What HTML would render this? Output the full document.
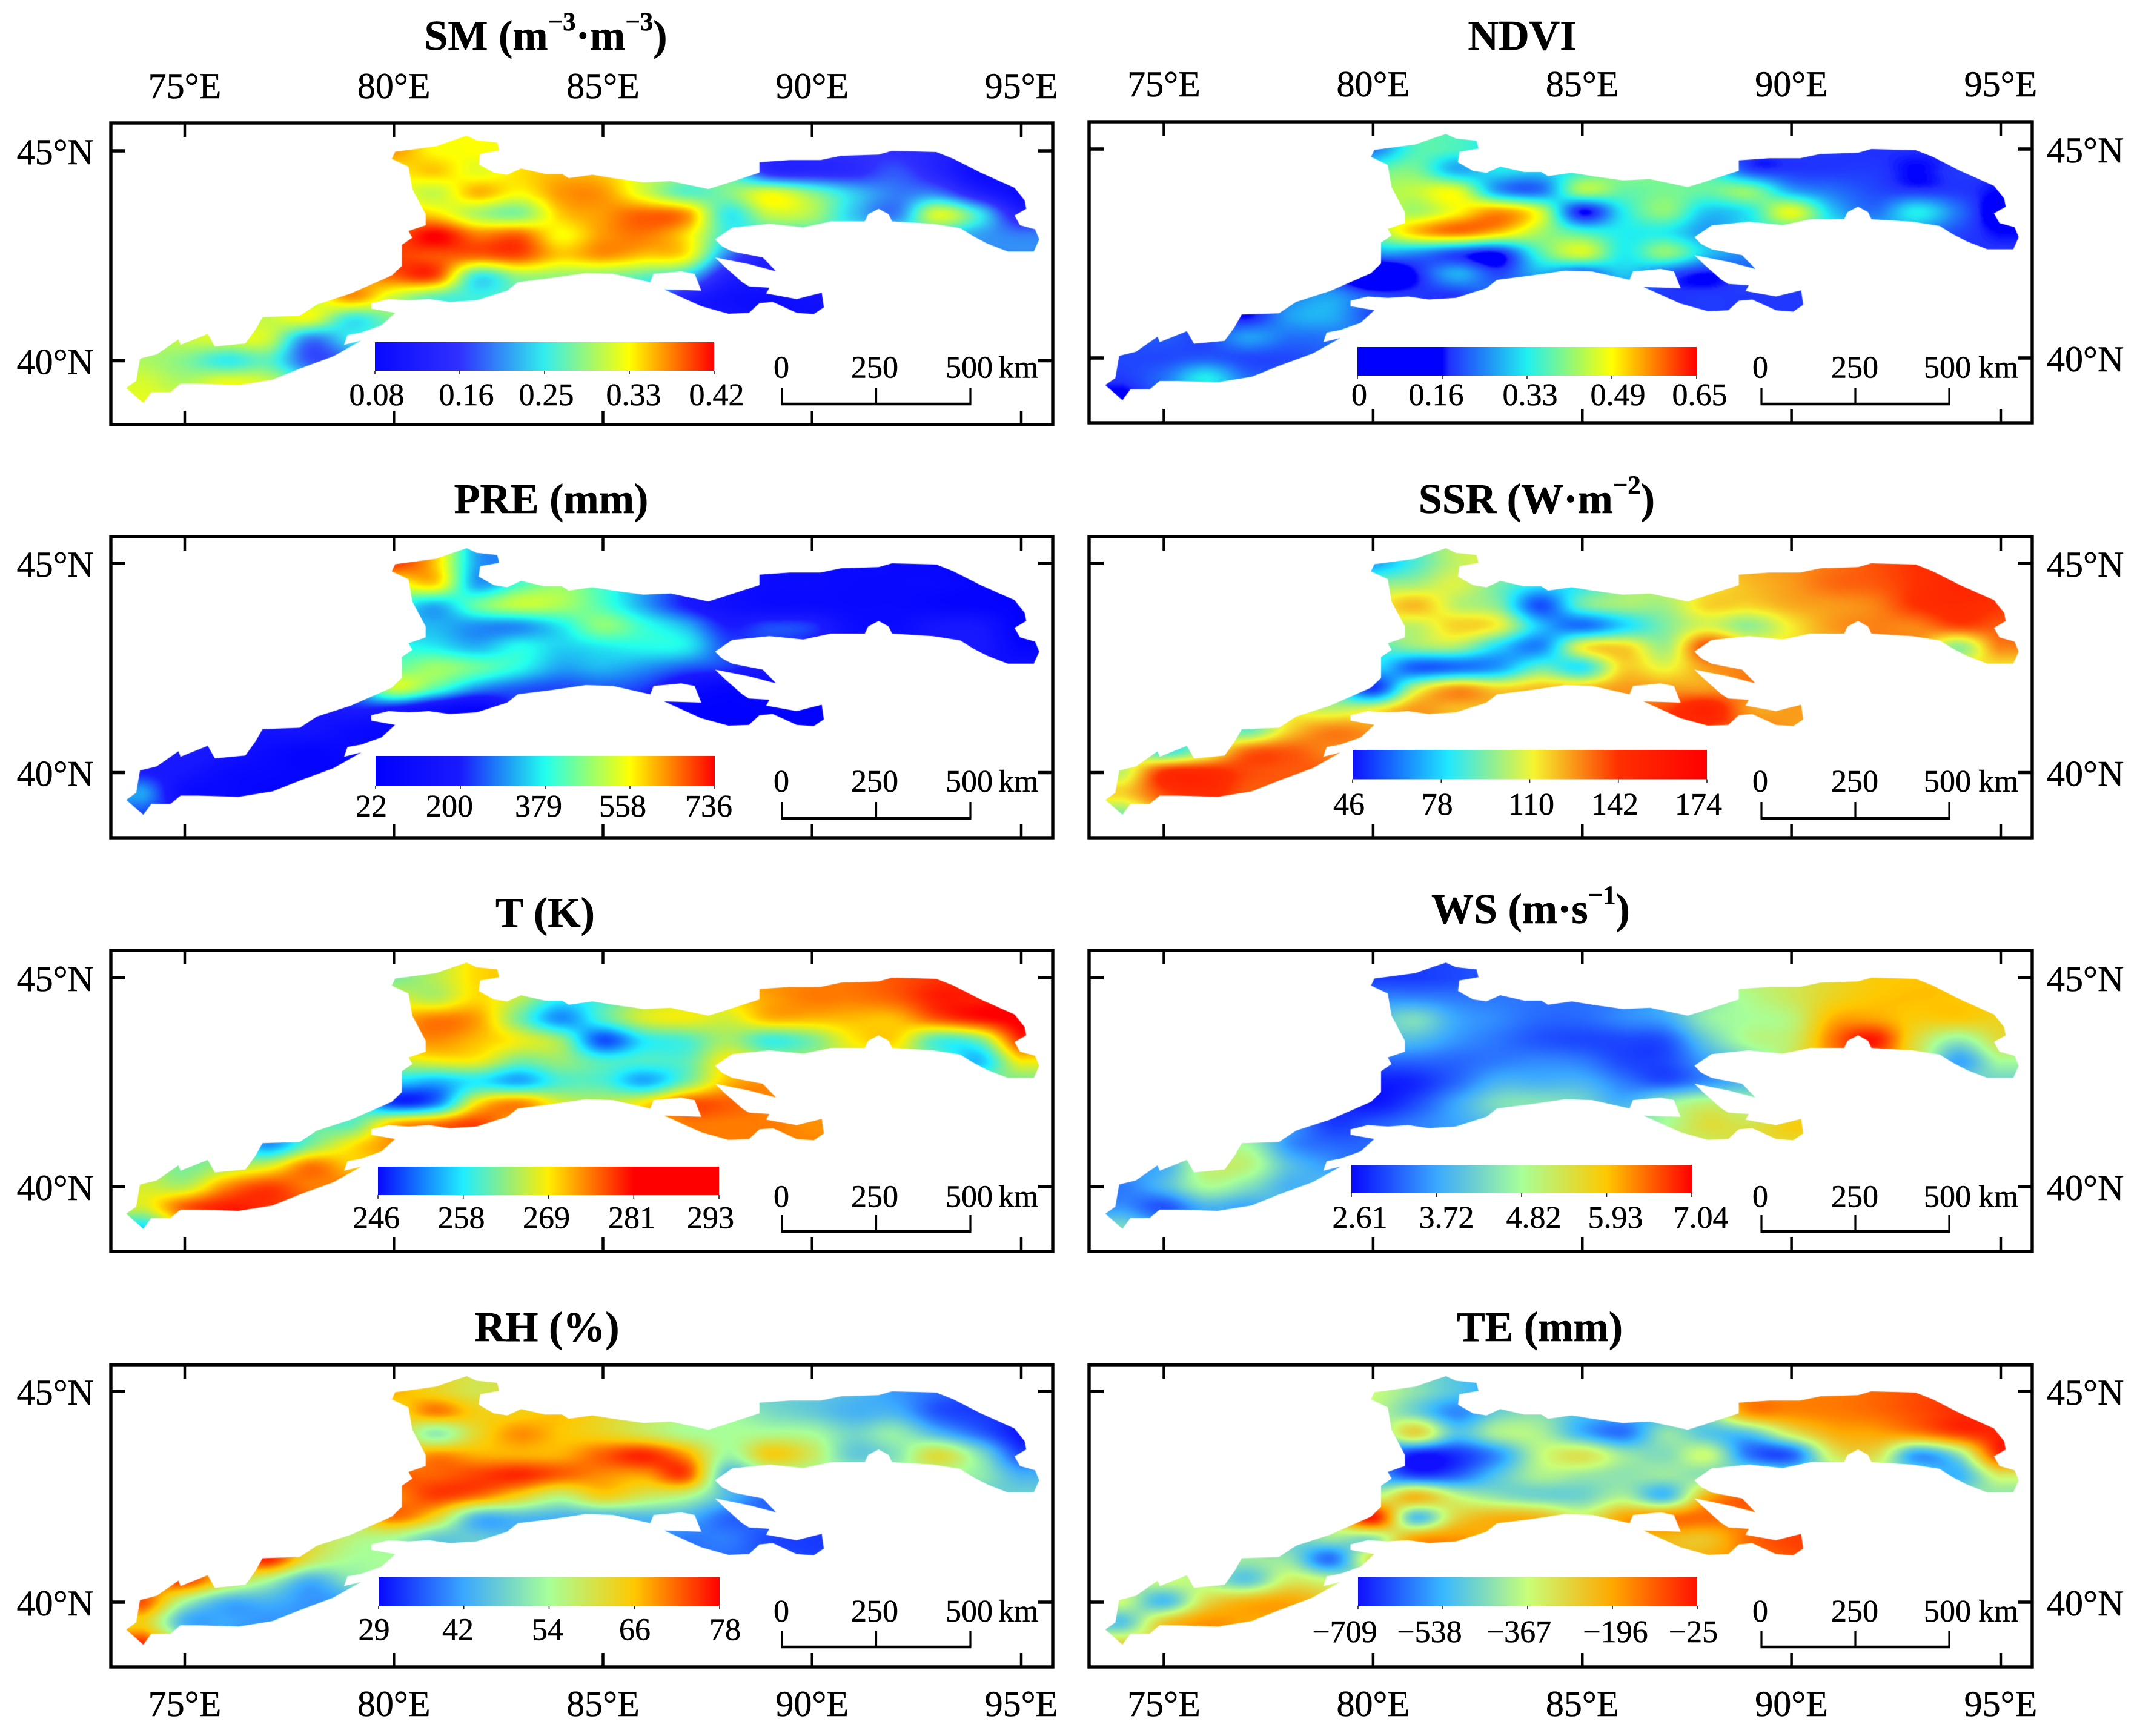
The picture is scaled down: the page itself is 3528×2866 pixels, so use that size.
<!DOCTYPE html>
<html lang="en">
<head>
<meta charset="utf-8">
<title>Spatial distribution of environmental variables</title>
<style>
html,body{margin:0;padding:0;background:#fff;}
#figure{position:relative;width:3528px;height:2866px;background:#fff;overflow:hidden;}
#figure canvas{position:absolute;display:block;}
#overlay{position:absolute;left:0;top:0;}
#overlay text{font-family:"Liberation Serif",serif;fill:#000;stroke:#000;stroke-width:0.5px;}
.title{font-size:70px;font-weight:bold;text-anchor:middle;}
.sup{font-size:43px;}
</style>
</head>
<body>
<div id="figure">
<svg id="overlay" width="3528" height="2866" viewBox="0 0 3528 2866" xmlns="http://www.w3.org/2000/svg">
  <defs id="gradients"></defs>
  <text class="title" x="901" y="82">SM (m<tspan class="sup" dy="-32">−3</tspan><tspan dy="32">·m</tspan><tspan class="sup" dy="-32">−3</tspan><tspan dy="32">)</tspan></text>
  <text class="title" x="2513" y="82">NDVI</text>
  <text class="title" x="910" y="847">PRE (mm)</text>
  <text class="title" x="2537" y="847">SSR (W·m<tspan class="sup" dy="-32">−2</tspan><tspan dy="32">)</tspan></text>
  <text class="title" x="900" y="1530">T (K)</text>
  <text class="title" x="2527" y="1524">WS (m·s<tspan class="sup" dy="-32">−1</tspan><tspan dy="32">)</tspan></text>
  <text class="title" x="903" y="2214">RH (%)</text>
  <text class="title" x="2542" y="2214">TE (mm)</text>
</svg>
</div>
<script>
const _ = null;
// grid axes of every field
const gridLons = [74,75,76,77,78,79,80,81,82,83,84,85,86,87,88,89,90,91,92,93,94,95];
const gridLats = [45,44.5,44,43.5,43,42.5,42,41.5,41,40.5,40,39.5,39];
// axis ticks
const lonTicks = [75,80,85,90,95];
const latTicks = [45,40];
const lonTickLabels = ['75°E','80°E','85°E','90°E','95°E'];
const latTickLabels = ['45°N','40°N'];
// basin boundary (degrees)
const boundaryLon = [81.74,81.98,82.47,82.52,82.06,82.03,82.39,82.71,83.04,83.61,84.02,84.18,84.75,85.24,85.97,86.62,87.52,87.84,88.74,88.74,89.47,90.2,90.69,91.59,91.91,92.97,93.38,94.03,94.84,95.08,95.12,94.84,94.97,95.33,95.43,95.3,94.68,94.19,93.86,93.54,92.89,91.91,91.83,91.59,91.34,91.26,90.45,89.79,88.98,88.09,87.68,87.84,88.09,88.82,89.14,88.49,87.68,87.92,88.33,88.49,88.98,88.9,89.63,90.23,90.28,90.04,89.63,89.06,88.74,88.49,88.0,87.35,86.46,87.35,87.19,86.87,86.21,86.13,85.24,84.59,83.77,82.96,82.71,81.98,81.33,80.84,80.35,79.87,79.46,79.46,80.03,79.7,79.22,78.89,78.81,79.22,78.56,77.75,77.1,76.29,75.31,74.9,74.66,74.2,74.01,73.6,73.84,73.93,74.33,74.85,74.9,75.55,75.72,76.45,76.69,76.86,77.75,78.16,78.97,79.95,80.19,80.19,80.44,80.35,80.76,80.76,80.44,80.35,79.95,80.03,81.01,81.41];
const boundaryLat = [45.36,45.25,45.2,45.01,44.93,44.68,44.48,44.43,44.58,44.45,44.45,44.35,44.43,44.35,44.25,44.28,44.09,44.19,44.48,44.73,44.78,44.78,44.88,44.91,45.0,44.97,44.81,44.48,44.12,43.82,43.62,43.46,43.23,43.13,42.89,42.6,42.6,42.79,42.96,43.16,43.26,43.32,43.49,43.62,43.49,43.32,43.32,43.18,43.26,43.17,42.89,42.73,42.6,42.46,42.13,42.3,42.46,42.23,41.87,41.77,41.74,41.6,41.47,41.62,41.27,41.11,41.14,41.4,41.37,41.14,41.12,41.3,41.7,41.67,42.07,42.13,42.07,41.87,42.07,42.09,41.97,41.87,41.67,41.44,41.4,41.47,41.44,41.47,41.37,41.24,41.14,40.84,40.67,40.61,40.38,40.48,40.11,39.81,39.55,39.42,39.45,39.45,39.25,39.25,38.99,39.35,39.52,40.05,40.15,40.51,40.38,40.64,40.34,40.41,40.74,41.04,41.07,41.34,41.6,42.03,42.26,42.76,42.93,43.09,43.23,43.49,44.09,44.62,44.81,44.98,45.11,45.25];
// colour-bar tick labels
const smBarLabels = ['0.08','0.16','0.25','0.33','0.42'];
const ndviBarLabels = ['0','0.16','0.33','0.49','0.65'];
const preBarLabels = ['22','200','379','558','736'];
const ssrBarLabels = ['46','78','110','142','174'];
const tBarLabels = ['246','258','269','281','293'];
const wsBarLabels = ['2.61','3.72','4.82','5.93','7.04'];
const rhBarLabels = ['29','42','54','66','78'];
const teBarLabels = ['−709','−538','−367','−196','−25'];
// scale-bar labels
const scaleLabels = ['0','250','500'];
// fields: value per grid node, as percent of each colour bar's range
const smField = [
[_,_,_,_,_,_,85,75,75,_,_,_,_,_,_,_,_,_,_,_,_,_],
[_,_,_,_,_,_,_,80,72,_,_,_,_,_,_,22,20,22,30,18,3,_],
[_,_,_,_,_,_,_,68,82,75,85,85,70,55,60,72,60,45,35,35,15,2],
[_,_,_,_,_,_,_,78,65,60,80,85,90,85,50,68,65,45,35,70,50,15],
[_,_,_,_,_,_,_,100,88,90,75,85,88,78,50,_,_,_,_,_,40,35],
[_,_,_,_,_,_,_,92,90,92,80,85,80,75,35,15,_,_,_,_,_,_],
[_,_,_,_,_,_,90,92,50,62,62,60,55,45,15,_,_,_,_,_,_,_],
[_,_,_,_,_,85,68,55,52,_,_,_,_,15,5,3,5,_,_,_,_,_],
[_,_,_,68,72,50,60,_,_,_,_,_,_,_,_,_,_,_,_,_,_,_],
[_,68,70,68,35,_,_,_,_,_,_,_,_,_,_,_,_,_,_,_,_,_],
[65,60,50,55,30,_,_,_,_,_,_,_,_,_,_,_,_,_,_,_,_,_],
[70,65,72,68,_,_,_,_,_,_,_,_,_,_,_,_,_,_,_,_,_,_],
[72,_,_,_,_,_,_,_,_,_,_,_,_,_,_,_,_,_,_,_,_,_]];
const ndviField = [
[_,_,_,_,_,_,35,55,55,_,_,_,_,_,_,_,_,_,_,_,_,_],
[_,_,_,_,_,_,_,60,42,_,_,_,_,_,_,30,28,28,28,25,28,_],
[_,_,_,_,_,_,_,68,72,40,35,65,58,60,58,62,42,35,30,28,28,25],
[_,_,_,_,_,_,_,65,75,85,70,25,50,62,45,50,72,45,35,50,35,20],
[_,_,_,_,_,_,_,80,88,80,65,55,50,50,40,_,_,_,_,_,30,25],
[_,_,_,_,_,_,_,38,30,25,55,70,50,62,45,38,_,_,_,_,_,_],
[_,_,_,_,_,_,8,25,42,30,42,32,45,32,25,_,_,_,_,_,_,_],
[_,_,_,_,_,40,30,28,28,_,_,_,_,28,28,28,28,_,_,_,_,_],
[_,_,_,25,40,42,30,_,_,_,_,_,_,_,_,_,_,_,_,_,_,_],
[_,32,30,40,35,_,_,_,_,_,_,_,_,_,_,_,_,_,_,_,_,_],
[30,30,32,30,30,_,_,_,_,_,_,_,_,_,_,_,_,_,_,_,_,_],
[28,35,50,35,_,_,_,_,_,_,_,_,_,_,_,_,_,_,_,_,_,_],
[22,_,_,_,_,_,_,_,_,_,_,_,_,_,_,_,_,_,_,_,_,_]];
const preField = [
[_,_,_,_,_,_,95,80,40,_,_,_,_,_,_,_,_,_,_,_,_,_],
[_,_,_,_,_,_,_,78,40,_,_,_,_,_,_,10,10,8,8,8,5,_],
[_,_,_,_,_,_,_,42,58,68,65,55,40,25,15,10,10,8,8,6,5,2],
[_,_,_,_,_,_,_,42,38,38,48,62,52,42,25,30,28,12,10,20,20,2],
[_,_,_,_,_,_,_,48,42,50,45,48,50,48,30,_,_,_,_,_,22,6],
[_,_,_,_,_,_,_,64,58,50,40,42,38,32,28,20,_,_,_,_,_,_],
[_,_,_,_,_,_,68,55,38,32,30,32,28,14,5,_,_,_,_,_,_,_],
[_,_,_,_,_,25,22,12,6,_,_,_,_,3,1,2,2,_,_,_,_,_],
[_,_,_,18,18,10,8,_,_,_,_,_,_,_,_,_,_,_,_,_,_,_],
[_,25,18,10,5,_,_,_,_,_,_,_,_,_,_,_,_,_,_,_,_,_],
[25,20,10,7,5,_,_,_,_,_,_,_,_,_,_,_,_,_,_,_,_,_],
[40,12,8,5,_,_,_,_,_,_,_,_,_,_,_,_,_,_,_,_,_,_],
[30,_,_,_,_,_,_,_,_,_,_,_,_,_,_,_,_,_,_,_,_,_]];
const ssrField = [
[_,_,_,_,_,_,18,32,45,_,_,_,_,_,_,_,_,_,_,_,_,_],
[_,_,_,_,_,_,_,42,48,_,_,_,_,_,_,58,62,68,70,75,80,_],
[_,_,_,_,_,_,_,58,45,38,8,35,42,42,55,55,60,62,65,75,78,75],
[_,_,_,_,_,_,_,45,55,50,22,12,25,38,48,40,52,62,65,65,72,70],
[_,_,_,_,_,_,_,40,42,25,15,50,55,42,72,_,_,_,_,_,40,65],
[_,_,_,_,_,_,_,10,12,18,35,28,55,50,62,65,_,_,_,_,_,_],
[_,_,_,_,_,_,5,45,62,55,58,58,62,62,62,_,_,_,_,_,_,_],
[_,_,_,_,_,45,50,62,58,_,_,_,_,72,82,62,62,_,_,_,_,_],
[_,_,_,35,55,65,62,_,_,_,_,_,_,_,_,_,_,_,_,_,_,_],
[_,30,45,68,70,_,_,_,_,_,_,_,_,_,_,_,_,_,_,_,_,_],
[45,75,78,72,70,_,_,_,_,_,_,_,_,_,_,_,_,_,_,_,_,_],
[55,72,78,70,_,_,_,_,_,_,_,_,_,_,_,_,_,_,_,_,_,_],
[38,_,_,_,_,_,_,_,_,_,_,_,_,_,_,_,_,_,_,_,_,_]];
const tField = [
[_,_,_,_,_,_,35,42,52,_,_,_,_,_,_,_,_,_,_,_,_,_],
[_,_,_,_,_,_,_,42,52,_,_,_,_,_,_,58,62,62,65,72,72,_],
[_,_,_,_,_,_,_,62,58,35,15,30,45,48,45,55,55,55,55,65,72,76],
[_,_,_,_,_,_,_,60,55,48,38,8,25,30,40,28,35,50,52,30,35,70],
[_,_,_,_,_,_,_,48,48,35,38,30,30,32,50,_,_,_,_,_,20,50],
[_,_,_,_,_,_,_,18,25,18,30,30,18,35,55,60,_,_,_,_,_,_],
[_,_,_,_,_,_,5,12,50,60,45,42,50,65,65,_,_,_,_,_,_,_],
[_,_,_,_,_,32,55,62,68,_,_,_,_,62,62,62,60,_,_,_,_,_],
[_,_,_,15,35,50,60,_,_,_,_,_,_,_,_,_,_,_,_,_,_,_],
[_,35,40,45,62,_,_,_,_,_,_,_,_,_,_,_,_,_,_,_,_,_],
[45,42,60,68,62,_,_,_,_,_,_,_,_,_,_,_,_,_,_,_,_,_],
[45,65,72,70,_,_,_,_,_,_,_,_,_,_,_,_,_,_,_,_,_,_],
[22,_,_,_,_,_,_,_,_,_,_,_,_,_,_,_,_,_,_,_,_,_]];
const wsField = [
[_,_,_,_,_,_,8,8,10,_,_,_,_,_,_,_,_,_,_,_,_,_],
[_,_,_,_,_,_,_,20,18,_,_,_,_,_,_,52,60,70,75,76,75,_],
[_,_,_,_,_,_,_,40,25,20,15,15,20,25,45,50,55,78,80,73,73,70],
[_,_,_,_,_,_,_,30,22,17,12,10,10,12,35,52,58,85,97,65,45,65],
[_,_,_,_,_,_,_,15,15,18,20,18,10,10,25,_,_,_,_,_,25,50],
[_,_,_,_,_,_,3,5,15,28,28,28,18,12,22,30,_,_,_,_,_,_],
[_,_,_,_,_,_,2,10,25,40,42,38,28,45,55,_,_,_,_,_,_,_],
[_,_,_,_,_,8,12,18,25,_,_,_,_,50,65,62,72,_,_,_,_,_],
[_,_,_,48,22,15,15,_,_,_,_,_,_,_,_,_,_,_,_,_,_,_],
[_,28,55,55,32,_,_,_,_,_,_,_,_,_,_,_,_,_,_,_,_,_],
[18,30,50,42,28,_,_,_,_,_,_,_,_,_,_,_,_,_,_,_,_,_],
[22,12,28,25,_,_,_,_,_,_,_,_,_,_,_,_,_,_,_,_,_,_],
[40,_,_,_,_,_,_,_,_,_,_,_,_,_,_,_,_,_,_,_,_,_]];
const rhField = [
[_,_,_,_,_,_,78,70,62,_,_,_,_,_,_,_,_,_,_,_,_,_],
[_,_,_,_,_,_,_,84,72,_,_,_,_,_,_,40,35,28,28,12,8,_],
[_,_,_,_,_,_,_,45,68,82,75,70,62,52,50,52,50,38,45,30,15,2],
[_,_,_,_,_,_,_,82,78,78,78,88,95,80,48,72,60,35,42,65,42,10],
[_,_,_,_,_,_,_,88,92,95,88,82,80,90,30,_,_,_,_,_,45,28],
[_,_,_,_,_,_,_,92,85,70,55,70,60,52,30,15,_,_,_,_,_,_],
[_,_,_,_,_,_,85,68,30,30,28,28,30,28,15,_,_,_,_,_,_,_],
[_,_,_,_,_,55,50,35,35,_,_,_,_,18,18,10,8,_,_,_,_,_],
[_,_,_,95,62,50,50,_,_,_,_,_,_,_,_,_,_,_,_,_,_,_],
[_,92,68,50,28,_,_,_,_,_,_,_,_,_,_,_,_,_,_,_,_,_],
[90,50,28,28,22,_,_,_,_,_,_,_,_,_,_,_,_,_,_,_,_,_],
[72,28,25,22,_,_,_,_,_,_,_,_,_,_,_,_,_,_,_,_,_,_],
[95,_,_,_,_,_,_,_,_,_,_,_,_,_,_,_,_,_,_,_,_,_]];
const teField = [
[_,_,_,_,_,_,50,40,30,_,_,_,_,_,_,_,_,_,_,_,_,_],
[_,_,_,_,_,_,_,35,18,_,_,_,_,_,_,78,80,82,85,90,95,_],
[_,_,_,_,_,_,_,62,30,45,45,25,15,40,30,30,55,72,75,80,92,97],
[_,_,_,_,_,_,_,2,5,20,48,58,42,38,50,15,12,55,60,22,40,95],
[_,_,_,_,_,_,_,8,12,30,45,42,40,42,40,_,_,_,_,_,25,55],
[_,_,_,_,_,_,_,70,50,40,35,35,45,28,72,88,_,_,_,_,_,_],
[_,_,_,_,_,_,98,30,62,72,70,55,75,82,85,_,_,_,_,_,_,_],
[_,_,_,_,_,42,40,75,78,_,_,_,_,70,68,85,92,_,_,_,_,_],
[_,_,_,42,40,15,60,_,_,_,_,_,_,_,_,_,_,_,_,_,_,_],
[_,50,45,32,55,_,_,_,_,_,_,_,_,_,_,_,_,_,_,_,_,_],
[50,28,60,72,75,_,_,_,_,_,_,_,_,_,_,_,_,_,_,_,_,_],
[30,65,78,75,_,_,_,_,_,_,_,_,_,_,_,_,_,_,_,_,_,_],
[62,_,_,_,_,_,_,_,_,_,_,_,_,_,_,_,_,_,_,_,_,_]];

// colour ramps (percent of bar, colour)
const rampSM = [[0,'#0808ff'],[25,'#3030ff'],[50,'#33eeee'],[75,'#ffff00'],[100,'#ff0000']];
const rampNDVI = [[0,'#0000ff'],[25,'#0000ff'],[27,'#2030ff'],[50,'#20f0f0'],[75,'#ffff00'],[100,'#ff0000']];
const rampPRE = [[0,'#0000ff'],[25,'#1a1aff'],[50,'#22ffee'],[75,'#ffff00'],[100,'#ff0000']];
const rampSSR = [[0,'#1010ff'],[27,'#20e8ff'],[51,'#f5f530'],[75,'#ff3000'],[100,'#ff0000']];
const rampT = [[0,'#0808ff'],[25,'#20eeff'],[50,'#ffee00'],[75,'#ff0000'],[100,'#ff0000']];
const rampWS = [[0,'#0808ff'],[25,'#3aa8ff'],[50,'#a8ff98'],[75,'#ffc800'],[100,'#ff0000']];
const rampTE = [[0,'#1010ff'],[25,'#38b8ff'],[50,'#c8ff78'],[75,'#ffa800'],[100,'#ff1000']];

// page layout of each panel
const LEFT = {l:183,r:1738,x75:305,x95:1686,scale:{x0:1291,x1:1602,labelX:[1290,1444,1600],kmX:1648}};
const RIGHT = {l:1798,r:3355,x75:1921.5,x95:3303,scale:{x0:2908,x1:3218,labelX:[2906,3062,3215],kmX:3266}};
const panels = [
 {id:'sm',col:LEFT,top:203,bot:701,y45:249,y40:595.5,field:smField,ramp:rampSM,labels:smBarLabels,bar:[619,1179,565,612],barX:[622,770,902,1046,1183],barBase:669,scY:667,scBase:623.5,lonLabelY:162},
 {id:'ndvi',col:RIGHT,top:201,bot:698,y45:246,y40:591,field:ndviField,ramp:rampNDVI,labels:ndviBarLabels,bar:[2241,2801,573,620],barX:[2244,2371,2526,2671,2806],barBase:669,scY:667,scBase:623.5,lonLabelY:159},
 {id:'pre',col:LEFT,top:886,bot:1383,y45:930,y40:1275.5,field:preField,ramp:rampPRE,labels:preBarLabels,bar:[620,1180,1248,1297],barX:[613,742,889,1028,1170],barBase:1348,scY:1351,scBase:1307},
 {id:'ssr',col:RIGHT,top:886,bot:1383,y45:930,y40:1275.5,field:ssrField,ramp:rampSSR,labels:ssrBarLabels,bar:[2233,2818,1238,1286.5],barX:[2227,2372.6,2528,2666,2804],barBase:1345,scY:1351,scBase:1307},
 {id:'t',col:LEFT,top:1569,bot:2066,y45:1614,y40:1959,field:tField,ramp:rampT,labels:tBarLabels,bar:[624,1187,1926,1973],barX:[621,761.5,902,1043,1173],barBase:2027.5,scY:2033,scBase:1992.6},
 {id:'ws',col:RIGHT,top:1569,bot:2066,y45:1614,y40:1959,field:wsField,ramp:rampWS,labels:wsBarLabels,bar:[2231,2793,1923,1970],barX:[2245,2388,2532,2667,2808],barBase:2027,scY:2033,scBase:1992.6},
 {id:'rh',col:LEFT,top:2253,bot:2752,y45:2297,y40:2645,field:rhField,ramp:rampWS,labels:rhBarLabels,bar:[625,1188,2604,2651],barX:[617.5,756,904,1048,1197],barBase:2707.5,scY:2719,scBase:2677,lonLabelY:2833},
 {id:'te',col:RIGHT,top:2253,bot:2752,y45:2297,y40:2645,field:teField,ramp:rampTE,labels:teBarLabels,bar:[2242,2802,2604,2651],barX:[2220,2360,2507.5,2667,2795.5],barBase:2711,scY:2719,scBase:2677,lonLabelY:2833}
];

const SVGNS = 'http://www.w3.org/2000/svg';
const figure = document.getElementById('figure');
const overlay = document.getElementById('overlay');
const defs = document.getElementById('gradients');

function line(parent,x1,y1,x2,y2,w,color){
  const el = document.createElementNS(SVGNS,'line');
  el.setAttribute('x1',x1);el.setAttribute('y1',y1);el.setAttribute('x2',x2);el.setAttribute('y2',y2);
  el.setAttribute('stroke',color||'#000');el.setAttribute('stroke-width',w);
  parent.appendChild(el);
  return el;
}
function label(parent,str,x,y,size,anchor){
  const el = document.createElementNS(SVGNS,'text');
  el.setAttribute('x',x);el.setAttribute('y',y);
  el.setAttribute('font-size',size);el.setAttribute('text-anchor',anchor||'middle');
  el.textContent = str;
  parent.appendChild(el);
  return el;
}
function group(parent){
  const el = document.createElementNS(SVGNS,'g');
  parent.appendChild(el);
  return el;
}
function hexRGB(h){return [parseInt(h.slice(1,3),16),parseInt(h.slice(3,5),16),parseInt(h.slice(5,7),16)];}
function buildLUT(ramp){
  const lut = [];
  for(let i=0;i<=255;i++){
    const p = i/255*100;
    let k = 0;
    while(k<ramp.length-2 && p>ramp[k+1][0]) k++;
    const a = ramp[k], b = ramp[k+1];
    const t = Math.min(1,Math.max(0,(p-a[0])/Math.max(1e-6,b[0]-a[0])));
    const ca = hexRGB(a[1]), cb = hexRGB(b[1]);
    lut.push([ca[0]+(cb[0]-ca[0])*t,ca[1]+(cb[1]-ca[1])*t,ca[2]+(cb[2]-ca[2])*t]);
  }
  return lut;
}
// fill nodes outside the basin from their neighbours so interpolation is defined at the edge
function completeField(field){
  const rows = gridLats.length, cols = gridLons.length;
  const g = [];
  for(let r=0;r<rows;r++){const row=[];for(let c=0;c<cols;c++){const v=field[r]?field[r][c]:null;row.push(v===undefined?null:v);}g.push(row);}
  let missing = true, guard = 0;
  while(missing && guard++<60){
    missing = false;
    const updates = [];
    for(let r=0;r<rows;r++)for(let c=0;c<cols;c++){
      if(g[r][c]!==null) continue;
      let s=0,n=0;
      for(let dr=-1;dr<=1;dr++)for(let dc=-1;dc<=1;dc++){
        const v = g[r+dr]&&g[r+dr][c+dc];
        if(v!==null&&v!==undefined){s+=v;n++;}
      }
      if(n) updates.push([r,c,s/n]); else missing = true;
    }
    updates.forEach(u=>{g[u[0]][u[1]]=u[2];});
  }
  return g;
}
function catmull(a,b,c,d,t){
  return 0.5*((2*b)+(-a+c)*t+(2*a-5*b+4*c-d)*t*t+(-a+3*b-3*c+d)*t*t*t);
}
function sampleField(g,lon,lat){
  const lonStep = gridLons[1]-gridLons[0], latStep = gridLats[0]-gridLats[1];
  const cols = gridLons.length, rows = gridLats.length;
  const u = Math.min(cols-1,Math.max(0,(lon-gridLons[0])/lonStep));
  const v = Math.min(rows-1,Math.max(0,(gridLats[0]-lat)/latStep));
  const c0 = Math.min(cols-2,Math.floor(u)), r0 = Math.min(rows-2,Math.floor(v));
  const tu = u-c0, tv = v-r0;
  const vals = [];
  for(let i=-1;i<=2;i++){
    const row = g[Math.min(rows-1,Math.max(0,r0+i))];
    vals.push(catmull(row[Math.max(0,c0-1)],row[c0],row[c0+1],row[Math.min(cols-1,c0+2)],tu));
  }
  return Math.min(100,Math.max(0,catmull(vals[0],vals[1],vals[2],vals[3],tv)));
}

panels.forEach(function(p){
  const c = p.col;
  const lonX = lon => c.x75+(lon-75)*(c.x95-c.x75)/20;
  const latY = lat => p.y45+(45-lat)*(p.y40-p.y45)/5;
  const xLon = x => 75+(x-c.x75)*20/(c.x95-c.x75);
  const yLat = y => 45-(y-p.y45)*5/(p.y40-p.y45);

  // raster field
  const W = Math.round(c.r-c.l), H = Math.round(p.bot-p.top);
  const canvas = document.createElement('canvas');
  
  
  canvas.width = W; canvas.height = H;
  canvas.style.left = c.l+'px'; canvas.style.top = p.top+'px';
  figure.insertBefore(canvas,overlay);
  const off = document.createElement('canvas');
  const oW = Math.ceil(W/2), oH = Math.ceil(H/2);
  off.width = oW; off.height = oH;
  const octx = off.getContext('2d');
  const img = octx.createImageData(oW,oH);
  const g = completeField(p.field);
  const lut = buildLUT(p.ramp);
  for(let y=0;y<oH;y++){
    const lat = yLat(p.top+(y+0.5)*2);
    for(let x=0;x<oW;x++){
      const lon = xLon(c.l+(x+0.5)*2);
      const col = lut[Math.round(sampleField(g,lon,lat)*2.55)];
      const i = (y*oW+x)*4;
      img.data[i]=col[0];img.data[i+1]=col[1];img.data[i+2]=col[2];img.data[i+3]=255;
    }
  }
  octx.putImageData(img,0,0);
  const ctx = canvas.getContext('2d');
  ctx.save();
  ctx.beginPath();
  boundaryLon.forEach(function(lon,i){
    const px = lonX(lon)-c.l, py = latY(boundaryLat[i])-p.top;
    if(i===0) ctx.moveTo(px,py); else ctx.lineTo(px,py);
  });
  ctx.closePath();
  ctx.clip();
  ctx.imageSmoothingEnabled = true;
  ctx.imageSmoothingQuality = 'high';
  ctx.drawImage(off,0,0,W,H);
  ctx.restore();

  // frame
  const frame = document.createElementNS(SVGNS,'rect');
  
  
  frame.setAttribute('x',c.l);frame.setAttribute('y',p.top);
  frame.setAttribute('width',c.r-c.l);frame.setAttribute('height',p.bot-p.top);
  frame.setAttribute('fill','none');frame.setAttribute('stroke','#000');frame.setAttribute('stroke-width',5.4);
  overlay.appendChild(frame);

  // longitude ticks and labels
  const xAxis = group(overlay);
  
  
  lonTicks.forEach(function(lon,i){
    const x = lonX(lon);
    const t1 = line(xAxis,x,p.top,x,p.top+23,4.5);
    
    
    const t2 = line(xAxis,x,p.bot,x,p.bot-23,4.5);
    
    
    if(p.lonLabelY){
      const tl = label(xAxis,lonTickLabels[i],x,p.lonLabelY,60);
      
      
    }
  });

  // latitude ticks and labels
  const yAxis = group(overlay);
  
  
  latTicks.forEach(function(lat,i){
    const y = latY(lat);
    const t1 = line(yAxis,c.l,y,c.l+24,y,5.5);
    
    
    const t2 = line(yAxis,c.r,y,c.r-24,y,5.5);
    
    
    const tl = c===LEFT ? label(yAxis,latTickLabels[i],155,y+22,60,'end') : label(yAxis,latTickLabels[i],3379,y+22,60,'start');
    
    
  });

  // colour bar
  const gradId = 'grad-'+p.id;
  const grad = document.createElementNS(SVGNS,'linearGradient');
  grad.setAttribute('id',gradId);
  p.ramp.forEach(function(s){
    const st = document.createElementNS(SVGNS,'stop');
    st.setAttribute('offset',s[0]+'%');
    st.setAttribute('stop-color',s[1]);
    grad.appendChild(st);
  });
  defs.appendChild(grad);
  const bar = group(overlay);
  
  
  const b = p.bar;
  const rect = document.createElementNS(SVGNS,'rect');
  
  
  rect.setAttribute('x',b[0]);rect.setAttribute('y',b[2]);
  rect.setAttribute('width',b[1]-b[0]);rect.setAttribute('height',b[3]-b[2]);
  rect.setAttribute('fill','url(#'+gradId+')');
  bar.appendChild(rect);
  p.labels.forEach(function(txt,i){
    const x = b[0]+(b[1]-b[0])*i/(p.labels.length-1);
    const tk = line(bar,x,b[3],x,b[3]+6,1.6,'#222');
    
    
    const tl = label(bar,txt,p.barX[i],p.barBase,52);
    
    
  });

  // scale bar
  const sb = group(overlay);
  
  
  const sc = c.scale, mid = (sc.x0+sc.x1)/2, topY = p.scY-27;
  const base = line(sb,sc.x0-1.5,p.scY,sc.x1+1.5,p.scY,4.4);
  
  
  [sc.x0,mid,sc.x1].forEach(function(x){
    const tk = line(sb,x,p.scY,x,topY,3.2);
    
    
  });
  scaleLabels.forEach(function(txt,i){
    const tl = label(sb,txt,sc.labelX[i],p.scBase,52);
    
    
  });
  const km = label(sb,'km',sc.kmX,p.scBase,52,'start');
  
  
});
</script>
</body>
</html>
